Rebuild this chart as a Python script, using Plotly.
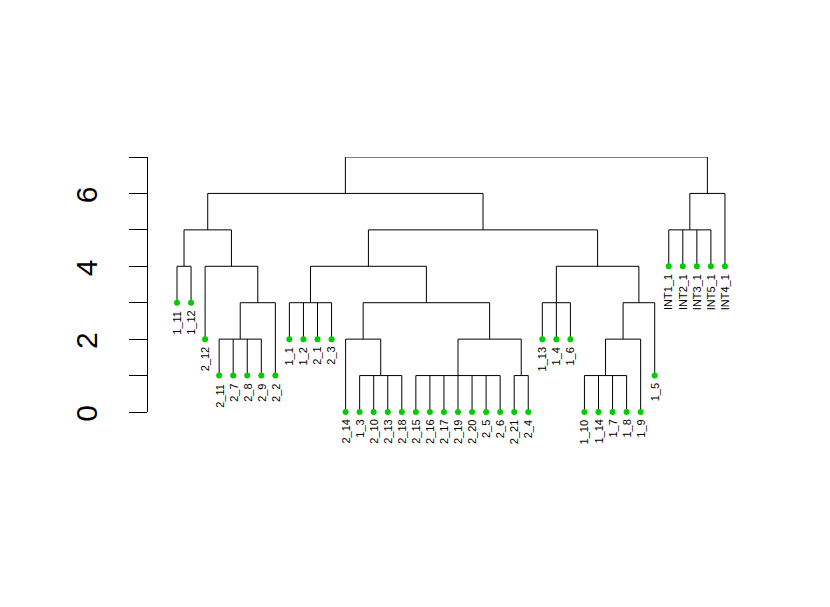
import plotly.graph_objects as go

# ---- data ----
labels = ["1_11", "1_12", "2_12", "2_11", "2_7", "2_8", "2_9", "2_2",
          "1_1", "1_2", "2_1", "2_3", "2_14", "1_3", "2_10", "2_13", "2_18",
          "2_15", "2_16", "2_17", "2_19", "2_20", "2_5", "2_6", "2_21", "2_4",
          "1_13", "1_4", "1_6", "1_10", "1_14", "1_7", "1_8", "1_9", "1_5",
          "INT1_1", "INT2_1", "INT3_1", "INT5_1", "INT4_1"]
leaf_heights = [3, 3, 2, 1, 1, 1, 1, 1,
                2, 2, 2, 2, 0, 0, 0, 0, 0,
                0, 0, 0, 0, 0, 0, 0, 0, 0,
                2, 2, 2, 0, 0, 0, 0, 0, 1,
                4, 4, 4, 4, 4]

node_names = ["n1", "n2", "n3", "n4", "n5", "n6", "n7", "n8", "n9", "n10", "n11",
              "n12", "n13", "n14", "n15", "n16", "n17", "n18", "n19", "n20",
              "n21", "n22", "n23"]
node_children = [
    ["1_11", "1_12"],
    ["2_11", "2_7", "2_8", "2_9"],
    ["n2", "2_2"],
    ["2_12", "n3"],
    ["n1", "n4"],
    ["1_1", "1_2", "2_1", "2_3"],
    ["1_3", "2_10", "2_13", "2_18"],
    ["2_14", "n7"],
    ["2_15", "2_16", "2_17", "2_19", "2_20", "2_5", "2_6"],
    ["2_21", "2_4"],
    ["n9", "n10"],
    ["n8", "n11"],
    ["n6", "n12"],
    ["1_13", "1_4", "1_6"],
    ["1_10", "1_14", "1_7", "1_8"],
    ["n15", "1_9"],
    ["n16", "1_5"],
    ["n14", "n17"],
    ["n13", "n18"],
    ["n5", "n19"],
    ["INT1_1", "INT2_1", "INT3_1", "INT5_1"],
    ["n21", "INT4_1"],
    ["n20", "n22"],
]
node_heights = [4, 2, 3, 4, 5, 3, 1, 2, 1, 1, 2, 3, 4, 3, 1, 2, 3, 4, 5, 6, 5, 6, 7]
y_tick_vals = [0, 2, 4, 6]

# ---- layout of the tree ----
pos = {}
hgt = {}
for i, (lab, h) in enumerate(zip(labels, leaf_heights)):
    pos[lab] = i + 1
    hgt[lab] = h
for name, ch, h in zip(node_names, node_children, node_heights):
    pos[name] = (pos[ch[0]] + pos[ch[-1]]) / 2
    hgt[name] = h

lx, ly = [], []
for name, ch, h in zip(node_names, node_children, node_heights):
    lx += [pos[ch[0]], pos[ch[-1]], None]
    ly += [h, h, None]
    for c in ch:
        lx += [pos[c], pos[c], None]
        ly += [h, hgt[c], None]

fig = go.Figure()
fig.add_trace(go.Scatter(x=lx, y=ly, mode="lines",
                         line=dict(color="black", width=1),
                         hoverinfo="skip", cliponaxis=False, showlegend=False))
fig.add_trace(go.Scatter(x=[pos[l] for l in labels], y=leaf_heights, mode="markers",
                         marker=dict(color="#00CD00", size=6),
                         text=labels, cliponaxis=False, showlegend=False))

for lab, h in zip(labels, leaf_heights):
    fig.add_annotation(x=pos[lab], y=h, text=lab, textangle=-90, showarrow=False,
                       xanchor="center", yanchor="top", yshift=-6,
                       font=dict(family="Liberation Sans, Arial", size=11, color="black"))

W, H = 830, 607
ml, mr, mt, mb = 148, 70, 157, 195
px_per_leaf = 14.05
plot_w = W - ml - mr
x0 = 1 - 29 / px_per_leaf
x1 = x0 + plot_w / px_per_leaf

fig.update_layout(
    width=W, height=H,
    margin=dict(l=ml, r=mr, t=mt, b=mb, pad=0),
    plot_bgcolor="white", paper_bgcolor="white",
    xaxis=dict(range=[x0, x1], visible=False, fixedrange=True),
    yaxis=dict(range=[0, 7], tickvals=y_tick_vals, ticktext=[str(v) for v in y_tick_vals],
               ticks="outside", ticklen=18, tickcolor="black", tickwidth=1,
               showline=True, linecolor="black", linewidth=1,
               showgrid=False, zeroline=False, tickangle=-90,
               ticklabelstandoff=20, ticklabelshift=6,
               tickfont=dict(family="Liberation Sans, Arial", size=30, color="black"),
               minor=dict(dtick=1, tick0=0, ticks="outside", ticklen=18,
                          tickcolor="black", tickwidth=1, showgrid=False)),
)

fig.write_html("out.html")
